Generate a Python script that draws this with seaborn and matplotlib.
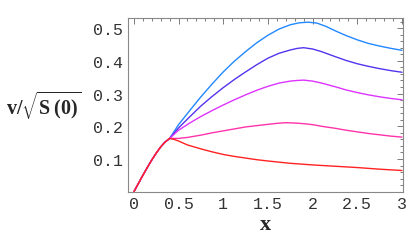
import numpy as np
import pandas as pd
import matplotlib
matplotlib.use("Agg")
import matplotlib.pyplot as plt
from matplotlib.ticker import MultipleLocator, FixedLocator
import seaborn as sns

# Shared initial segment (all curves coincide)
x_common = [0.0, 0.05, 0.1, 0.15, 0.2, 0.25, 0.3, 0.35, 0.4]
y_common = [0.0, 0.025, 0.05, 0.074, 0.097, 0.118, 0.137, 0.152, 0.163]

# Branches after x ~ 0.4
x_top = [0.5, 0.625, 0.75, 0.875, 1.0, 1.125, 1.25, 1.375, 1.5, 1.625, 1.75, 1.85,
         1.95, 2.05, 2.15, 2.25, 2.375, 2.5, 2.625, 2.75, 2.875, 3.0]
y_top = [0.205, 0.248, 0.290, 0.329, 0.366, 0.399, 0.428, 0.455, 0.478, 0.497, 0.510, 0.516,
         0.518, 0.515, 0.505, 0.492, 0.477, 0.464, 0.453, 0.445, 0.438, 0.432]

x_second = [0.5, 0.625, 0.75, 0.875, 1.0, 1.125, 1.25, 1.375, 1.5, 1.625, 1.75, 1.83,
            1.9, 2.0, 2.1, 2.25, 2.375, 2.5, 2.625, 2.75, 2.875, 3.0]
y_second = [0.195, 0.229, 0.262, 0.291, 0.318, 0.343, 0.366, 0.388, 0.408, 0.423, 0.433, 0.438,
            0.440, 0.436, 0.428, 0.413, 0.401, 0.391, 0.383, 0.376, 0.370, 0.365]

x_third = [0.5, 0.625, 0.75, 0.875, 1.0, 1.125, 1.25, 1.375, 1.5, 1.625, 1.75, 1.83,
           1.9, 2.0, 2.1, 2.25, 2.375, 2.5, 2.625, 2.75, 2.875, 3.0]
y_third = [0.188, 0.210, 0.230, 0.248, 0.265, 0.281, 0.296, 0.310, 0.322, 0.332, 0.338, 0.340,
           0.341, 0.338, 0.332, 0.321, 0.311, 0.303, 0.296, 0.290, 0.285, 0.281]

x_fourth = [0.5, 0.6, 0.75, 0.875, 1.0, 1.125, 1.25, 1.375, 1.5, 1.6, 1.7, 1.8, 1.9, 2.0,
            2.125, 2.25, 2.375, 2.5, 2.625, 2.75, 2.875, 3.0]
y_fourth = [0.163, 0.166, 0.173, 0.180, 0.186, 0.192, 0.198, 0.202, 0.206, 0.209, 0.211, 0.210,
            0.208, 0.205, 0.199, 0.194, 0.188, 0.183, 0.178, 0.174, 0.170, 0.167]

x_fifth = [0.45, 0.5, 0.6, 0.75, 0.875, 1.0, 1.125, 1.25, 1.375, 1.5, 1.75, 2.0, 2.25, 2.5,
           2.75, 3.0]
y_fifth = [0.160, 0.155, 0.143, 0.131, 0.122, 0.114, 0.108, 0.103, 0.098, 0.094, 0.087, 0.082,
           0.078, 0.074, 0.069, 0.065]

curve_names = ["c1", "c2", "c3", "c4", "c5"]
curve_colors = ["#2288FF", "#5533EE", "#DD33FF", "#FF33AA", "#FF2222"]

branches = [(x_top, y_top), (x_second, y_second), (x_third, y_third),
            (x_fourth, y_fourth), (x_fifth, y_fifth)]
frames = []
for name, (bx, by) in zip(curve_names, branches):
    frames.append(pd.DataFrame({"x": list(x_common) + list(bx),
                                "y": list(y_common) + list(by),
                                "curve": name}))
df = pd.concat(frames, ignore_index=True)

sns.set_style("white")
plt.rcParams["mathtext.fontset"] = "custom"
plt.rcParams["mathtext.rm"] = "Liberation Serif"
plt.rcParams["mathtext.bf"] = "Liberation Serif:bold"

fig = plt.figure(figsize=(4.09, 2.53), dpi=100)
ax = fig.add_axes([0.312, 0.238, 0.673, 0.686])

sns.lineplot(data=df, x="x", y="y", hue="curve", hue_order=curve_names,
             palette=curve_colors, estimator=None, sort=False,
             linewidth=1.0, legend=False, ax=ax)

ax.set_xlim(-0.07, 3.01)
ax.set_ylim(0.0, 0.53)

ax.xaxis.set_major_locator(FixedLocator([0, 0.5, 1, 1.5, 2, 2.5, 3]))
ax.xaxis.set_minor_locator(MultipleLocator(0.1))
ax.yaxis.set_major_locator(FixedLocator([0.1, 0.2, 0.3, 0.4, 0.5]))
ax.yaxis.set_minor_locator(MultipleLocator(0.02))
ax.set_xticklabels(["0", "0.5", "1", "1.5", "2", "2.5", "3"])
ax.set_yticklabels(["0.1", "0.2", "0.3", "0.4", "0.5"])

for sp in ax.spines.values():
    sp.set_color("#888888")
    sp.set_linewidth(0.8)

ax.tick_params(which="both", direction="in", top=True, right=True,
               color="#666666", width=0.6)
ax.tick_params(which="major", length=4, labelsize=12, pad=3)
ax.tick_params(which="minor", length=2)
for lab in ax.get_xticklabels() + ax.get_yticklabels():
    lab.set_fontfamily("Liberation Mono")
    lab.set_color("#333333")

ax.set_xlabel("x", fontfamily="Liberation Serif", fontweight="bold",
              fontsize=16, labelpad=2)
ax.set_ylabel(r"$\mathbf{v/}\sqrt{\mathbf{S\,(0)}}$", fontsize=14.5, rotation=0,
              ha="center", va="center")
ax.yaxis.set_label_coords(-0.305, 0.50)

fig.savefig("out.png", dpi=100)
